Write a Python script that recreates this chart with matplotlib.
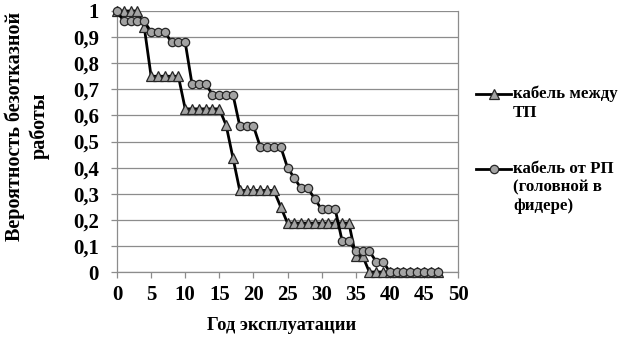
import matplotlib
matplotlib.use("Agg")
import matplotlib.pyplot as plt
from matplotlib.lines import Line2D

# ---- data ----
years = list(range(0, 48))
between_tp = ([1.0] * 4 + [0.9375] + [0.75] * 5 + [0.625] * 6 + [0.5625, 0.4375]
              + [0.3125] * 6 + [0.25] + [0.1875] * 10 + [0.0625] * 2 + [0.0] * 11)
from_rp = ([1.0] + [0.96] * 4 + [0.92] * 3 + [0.88] * 3 + [0.72] * 3 + [0.68] * 4
           + [0.56] * 3 + [0.48] * 4 + [0.40, 0.36, 0.32, 0.32, 0.28] + [0.24] * 3
           + [0.12] * 2 + [0.08] * 3 + [0.04] * 2 + [0.0] * 8)
series_labels = ["кабель между\nТП", "кабель от РП\n(головной в\nфидере)"]
xticks = list(range(0, 51, 5))
yticks = [i / 10 for i in range(0, 11)]
ytick_labels = ["0", "0,1", "0,2", "0,3", "0,4", "0,5", "0,6", "0,7", "0,8", "0,9", "1"]
xlabel = "Год эксплуатации"
ylabel = "Вероятность безотказной\nработы"

W, H = 623, 339
fig = plt.figure(figsize=(W / 100, H / 100), dpi=100)
fig.patch.set_facecolor("white")
ax = fig.add_axes([117 / W, 1 - 272 / H, (458 - 117) / W, (272 - 11) / H])

font = dict(family="Liberation Serif", weight="bold")
grid_c = "#8c8c8c"
fill_c = "#a3a3a3"
edge_c = "#262626"

ax.plot(years, between_tp, color="black", lw=2.0, marker="^", ms=7.5,
        mfc=fill_c, mec=edge_c, mew=0.9, zorder=3, clip_on=False)
ax.plot(years, from_rp, color="black", lw=2.0, marker="o", ms=6,
        mfc=fill_c, mec=edge_c, mew=0.9, zorder=4, clip_on=False)

ax.set_xlim(0, 50)
ax.set_ylim(0, 1)
ax.set_xticks(xticks)
ax.set_yticks(yticks)
ax.set_xticklabels([str(t) for t in xticks], fontsize=15, **font)
ax.set_yticklabels(ytick_labels, fontsize=15, **font)
ax.yaxis.grid(True, color=grid_c, lw=0.9)
ax.set_axisbelow(True)
for s in ["left", "bottom", "right"]:
    ax.spines[s].set_color(grid_c)
    ax.spines[s].set_linewidth(0.9)
ax.spines["top"].set_visible(False)
ax.tick_params(axis="both", direction="out", length=4, width=0.9, color=grid_c)
ax.tick_params(axis="y", pad=9)
ax.tick_params(axis="x", pad=5)

fig.text(282 / W, 1 - 326 / H, xlabel, ha="center", va="center", fontsize=13.3, **font)
fig.text(27 / W, 1 - 126 / H, ylabel, ha="center", va="center", rotation=90,
         fontsize=14.5, linespacing=1.3, **font)

# legend
def legend_entry(y_px, marker, ms, label):
    fig.add_artist(Line2D([476 / W, 511 / W], [1 - y_px / H] * 2, color="black", lw=2.0,
                          transform=fig.transFigure))
    fig.add_artist(Line2D([493.5 / W], [1 - y_px / H], marker=marker, ms=ms, mfc=fill_c,
                          mec=edge_c, mew=0.9, transform=fig.transFigure))
    fig.text(513 / W, 1 - (y_px - 8) / H, label, ha="left", va="top", fontsize=12.2,
             linespacing=1.2, **font)

legend_entry(94, "^", 7.5, series_labels[0])
legend_entry(169, "o", 6, series_labels[1])

fig.savefig("out.png", dpi=100)
